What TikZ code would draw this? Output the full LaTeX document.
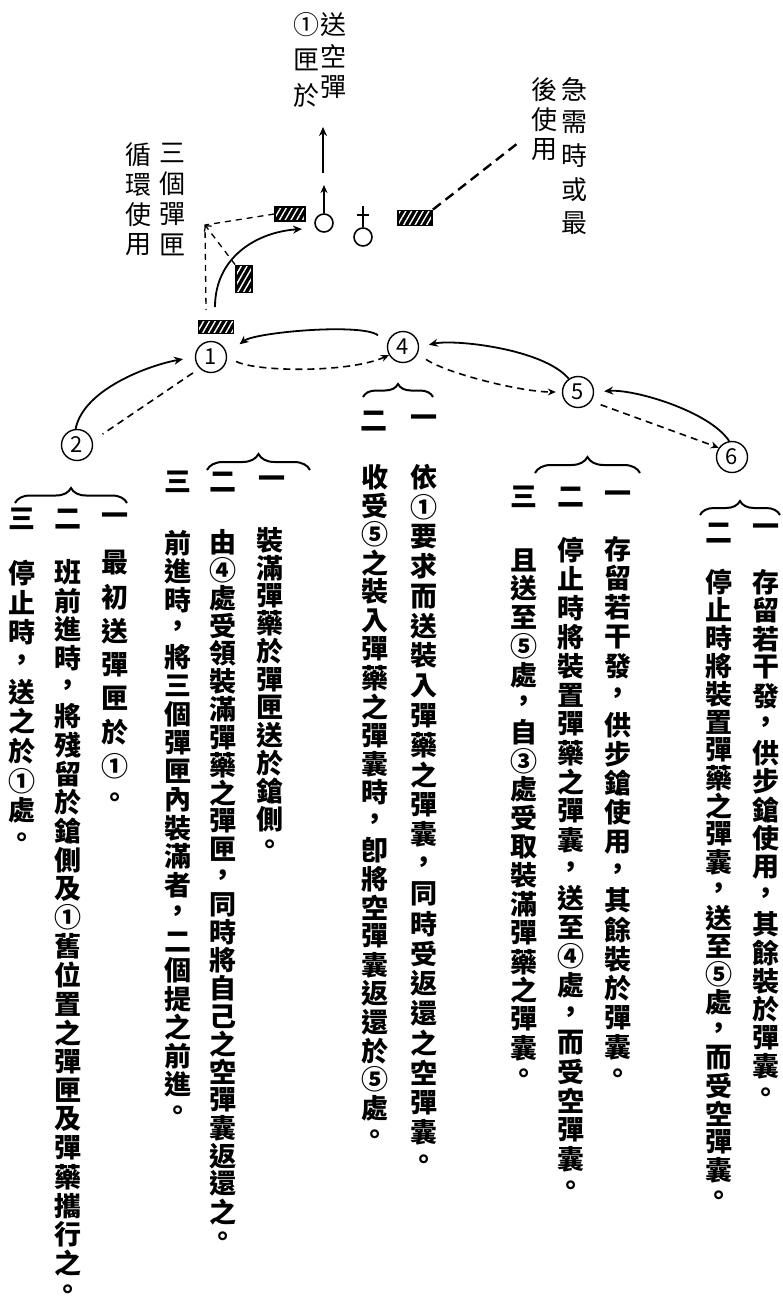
\documentclass[tikz,border=0pt]{standalone}
\usepackage{fontspec}
\usepackage{tikz}
\usetikzlibrary{arrows.meta,patterns.meta,decorations.pathreplacing}
\newfontfamily\cjk{Noto Sans CJK TC}

\tikzset{
  glyph/.style={font=\cjk\bfseries\fontsize{27}{27}\selectfont, inner sep=0pt},
  hand/.style={font=\cjk\fontsize{26}{26}\selectfont, inner sep=0pt},
  post/.style={circle, draw, line width=1.4pt, minimum size=31pt, inner sep=0pt, font=\cjk\fontsize{22}{22}\selectfont},
  gun/.style={circle, draw, line width=1.6pt, minimum size=18pt, inner sep=0pt},
  mag/.style={draw, line width=1.8pt, inner sep=0pt, preaction={fill=black},
    pattern={Lines[angle=60,distance=5pt,line width=1.4pt]}, pattern color=white},
  loaded/.style={line width=1.8pt, -{Stealth[length=9pt,width=8pt]}},
  empty/.style={line width=1.6pt, dash pattern=on 7pt off 5pt},
  bracket/.style={line width=2pt, decorate, decoration={brace, amplitude=#1}},
}

% one vertical column of characters, top to bottom
\makeatletter
\newcount\vc@n
\newcommand\vcol[6][glyph]{% style, name, x, first y, pitch, characters
  \vc@n=0
  \def\vc@y{#4}%
  \@tfor\vc@c:=#6\do{%
    \advance\vc@n by 1
    \node[#1] (#2-\the\vc@n) at (#3,\vc@y) {\vc@c};
    \pgfmathsetmacro\vc@y{\vc@y+#5}}}
\makeatother

\begin{document}
\begin{tikzpicture}[x=1pt,y=-1pt]
\useasboundingbox (0,0) rectangle (783,1304);

% posts
\node[post] (n1) at (211,357) {1};
\node[post] (n2) at (77,445) {2};
\node[post] (n4) at (403,347) {4};
\node[post] (n5) at (578,392) {5};
\node[post] (n6) at (732,457) {6};

\draw[loaded, shorten <=12pt, shorten >=16pt] (n4.165) .. controls +(-25,-20) and +(28,-22) .. (n1.10);
\draw[empty, -{Stealth[length=8pt,width=7pt]}, shorten <=10pt] (n1.east) .. controls +(30,15) and +(-40,18) .. (n4.210);
\draw[loaded, shorten >=12pt] (n2.95) .. controls +(8,-40) and +(-45,8) .. (n1.west);
\draw[empty, shorten <=8pt, shorten >=12pt] (n1.225) -- (n2.15);
\draw[loaded, shorten >=10pt] (n5.125) .. controls +(-25,-30) and +(35,-8) .. (n4.east);
\draw[empty, -{Stealth[length=8pt,width=7pt]}, shorten <=10pt, shorten >=6pt] (n4.-25) .. controls +(30,20) and +(-40,0) .. (n5.west);
\draw[loaded, shorten >=10pt] (n6.100) .. controls +(-20,-30) and +(40,-3) .. (n5.east);
\draw[empty, -{Stealth[length=8pt,width=7pt]}, shorten <=10pt] (n5.-35) -- (n6.145);

% magazines and guns
\node[mag, minimum width=30pt, minimum height=14pt] (magA) at (290,214) {};
\node[mag, minimum width=34pt, minimum height=15pt] (magB) at (415,218) {};
\node[mag, minimum width=16pt, minimum height=27pt] (magC) at (244,279) {};
\node[mag, minimum width=35pt, minimum height=13pt] (magD) at (216,327) {};
\node[gun] (gunA) at (324,223) {};
\node[gun] (gunB) at (363,237) {};

\coordinate (aimA) at (324,185);
\coordinate (upfoot) at (323,173);
\coordinate (uphead) at (323,127);
\coordinate (turn) at (205,225);
\coordinate (drop) at (206,310);
\coordinate (swingS) at (215,307);
\coordinate (swingE) at (302,229);
\coordinate (lateuse) at (518,143);

\draw[line width=1.6pt, -{Stealth[length=8pt,width=7pt]}] (gunA.north) -- (aimA);
\draw[line width=1.6pt] (gunB.north) -- ++(0,-21) (357,215) -- (369,215);
\draw[loaded, line width=2pt] (upfoot) -- (uphead);
\draw[line width=1.3pt, dash pattern=on 6pt off 5pt] (magA.west) -- (turn) -- (drop);
\draw[line width=1.3pt, dash pattern=on 6pt off 5pt, -{Straight Barb[length=4pt,width=9pt]}] (magC.north west) -- (turn);
\draw[loaded] (swingS) .. controls +(0,-50) and +(-45,3) .. (swingE);
\draw[line width=2.4pt, dash pattern=on 10pt off 6pt] (magB.north east) -- (lateuse);

% handwritten notes
\vcol[hand]{lbA}{333}{25}{31}{送空彈}
\vcol[hand]{lbB}{306}{25}{35}{①匣於}
\vcol[hand]{lbC}{172}{153}{30.5}{三個彈匣}
\vcol[hand]{lbD}{138}{155}{30}{循環使用}
\vcol[hand]{lbE}{574}{89}{33.5}{急需時或最}
\vcol[hand]{lbF}{544}{90}{30}{後使用}

% braces and item numbers
\draw[bracket=15pt] (15,503) -- (127,503);
\draw[bracket=16pt] (207,470) -- (310,470);
\draw[bracket=13pt] (363,397) -- (433,397);
\draw[bracket=16pt] (535,473) -- (640,473);
\draw[bracket=14pt] (700,515) -- (780,515);
\foreach \nm/\x/\y/\t in {k2a/115/519/一, k2b/68/519/二, k2c/22/519/三,
    k1a/272/482/一, k1b/223/482/二, k1c/178/482/三,
    k4a/424/421/一, k4b/374/421/二,
    k5a/618/497/一, k5b/571/497/二, k5c/524/497/三,
    k6a/766/530/一, k6b/719/533/二}
  \node[glyph] (\nm) at (\x,\y) {\t};

% text columns
\vcol{g6a}{766}{582}{28.5}{存留若干發，供步鎗使用，其餘裝於彈囊。}
\vcol{g6b}{719}{582}{28}{停止時將裝置彈藥之彈囊，送至⑤處，而受空彈囊。}
\vcol{g5a}{618}{549}{29.3}{存留若干發，供步鎗使用，其餘裝於彈囊。}
\vcol{g5b}{571}{550}{29}{停止時將裝置彈藥之彈囊，送至④處，而受空彈囊。}
\vcol{g5c}{524}{560}{28.7}{且送至⑤處，自③處受取裝滿彈藥之彈囊。}
\vcol{g4a}{424}{477}{29.8}{依①要求而送裝入彈藥之彈囊，同時受返還之空彈囊。}
\vcol{g4b}{375}{477}{28.7}{收受⑤之裝入彈藥之彈囊時，卽將空彈囊返還於⑤處。}
\vcol{g1a}{270}{540}{27.9}{裝滿彈藥於彈匣送於鎗側。}
\vcol{g1b}{223}{542}{27.9}{由④處受領裝滿彈藥之彈匣，同時將自己之空彈囊返還之。}
\vcol{g1c}{178}{543}{28.5}{前進時，將三個彈匣內裝滿者，二個提之前進。}
\vcol{g2a}{115}{563}{33.9}{最初送彈匣於①。}
\vcol{g2b}{68}{572}{28.8}{班前進時，將殘留於鎗側及①舊位置之彈匣及彈藥攜行之。}
\vcol{g2c}{22}{573}{29.7}{停止時，送之於①處。}

\end{tikzpicture}
\end{document}
